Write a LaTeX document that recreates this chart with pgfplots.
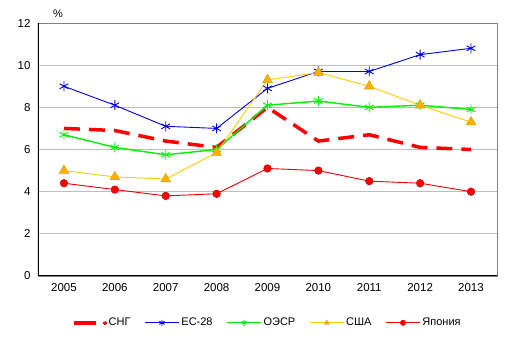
\documentclass[border=0pt]{standalone}
\usepackage{pgfplots}
\pgfplotsset{compat=1.18}
\usepackage{fontspec}
\setmainfont{Liberation Sans}
\definecolor{cngred}{RGB}{255,0,0}
\definecolor{eublue}{RGB}{0,0,240}
\definecolor{oecdgreen}{RGB}{0,240,0}
\definecolor{usayel}{RGB}{255,204,0}
\definecolor{usaorange}{RGB}{255,176,0}
\definecolor{jpred}{RGB}{240,0,0}
\definecolor{gridgray}{RGB}{190,190,190}
\begin{document}
\begin{tikzpicture}
\useasboundingbox (-38bp,-62bp) rectangle (473bp,276bp);
\begin{axis}[
  name=ax,
  at={(0,0)}, anchor=south west,
  scale only axis,
  width=459bp, height=253bp,
  xmin=2004.49, xmax=2013.51,
  ymin=0, ymax=12,
  xtick={2005,...,2013},
  ytick={0,2,...,12},
  xticklabel style={/pgf/number format/1000 sep={}},
  /pgf/number format/assume math mode=true,
  tick label style={font=\fontsize{11.5bp}{13bp}\selectfont},
  major tick length=0pt,
  xticklabel style={yshift=-4bp},
  yticklabel style={xshift=-4bp},
  ymajorgrids,
  grid style={gridgray, line width=0.8bp},
  axis line style={gray, line width=0.8bp},
  legend columns=5,
  legend style={draw=none, fill=none, at={(0.5,-0.185)}, anchor=center,
    font=\fontsize{11bp}{13bp}\selectfont, /tikz/every even column/.append style={column sep=12bp}},
  legend cell align=left,
]
\addplot[cngred, line width=3.5bp, dash pattern=on 16bp off 9bp, no markers,
  legend image code/.code={\draw[cngred, solid, line width=3.5bp] (0bp,0bp) -- (22bp,0bp); \fill[cngred, solid, line width=0pt] (31bp,0bp) circle (1.6bp);}]
  coordinates {(2005,7.0) (2006,6.9) (2007,6.4) (2008,6.1) (2009,8.0) (2010,6.4) (2011,6.7) (2012,6.1) (2013,6.0)};
\addlegendentry{СНГ}
\addplot[eublue, line width=0.9bp, mark=asterisk, mark size=5bp, mark options={line width=0.9bp},
  legend image code/.code={\draw[eublue, line width=0.9bp] (0bp,0bp) -- (34bp,0bp); \draw[eublue, line width=0.7bp] plot[mark=asterisk, mark size=3bp] coordinates {(17bp,0bp)};}]
  coordinates {(2005,9.0) (2006,8.1) (2007,7.1) (2008,7.0) (2009,8.9) (2010,9.7) (2011,9.7) (2012,10.5) (2013,10.8)};
\addlegendentry{ЕС-28}
\addplot[oecdgreen, line width=1.4bp, mark=asterisk, mark size=5bp, mark options={line width=0.9bp},
  legend image code/.code={\draw[oecdgreen, line width=1bp] (0bp,0bp) -- (34bp,0bp); \draw[oecdgreen, line width=0.7bp] plot[mark=asterisk, mark size=3bp] coordinates {(17bp,0bp)};}]
  coordinates {(2005,6.7) (2006,6.1) (2007,5.75) (2008,6.0) (2009,8.1) (2010,8.3) (2011,8.0) (2012,8.1) (2013,7.9)};
\addlegendentry{ОЭСР}
\addplot[usayel, line width=0.9bp, mark=triangle*, mark size=5.5bp, mark options={fill=usaorange, draw=usaorange!90!black, line width=0.6bp},
  legend image code/.code={\draw[usayel, line width=0.9bp] (0bp,0bp) -- (34bp,0bp); \draw[usaorange, fill=usaorange] plot[mark=triangle*, mark size=2.5bp] coordinates {(17bp,0bp)};}]
  coordinates {(2005,5.0) (2006,4.7) (2007,4.6) (2008,5.85) (2009,9.3) (2010,9.65) (2011,9.0) (2012,8.1) (2013,7.3)};
\addlegendentry{США}
\addplot[jpred, line width=0.9bp, mark=*, mark size=3.8bp, mark options={fill=cngred, draw=red!80!black, line width=0.5bp},
  legend image code/.code={\draw[jpred, line width=0.9bp] (0bp,0bp) -- (34bp,0bp); \fill[jpred] (17bp,0bp) circle (2.5bp);}]
  coordinates {(2005,4.4) (2006,4.1) (2007,3.8) (2008,3.9) (2009,5.1) (2010,5.0) (2011,4.5) (2012,4.4) (2013,4.0)};
\addlegendentry{Япония}
\draw[black, line width=1.2bp] (rel axis cs:0,1) -- (rel axis cs:0,0) -- (rel axis cs:1,0);
\end{axis}
\node[font=\fontsize{11bp}{13bp}\selectfont] at ([xshift=20bp,yshift=9bp]ax.north west) {\%};
\end{tikzpicture}
\end{document}
